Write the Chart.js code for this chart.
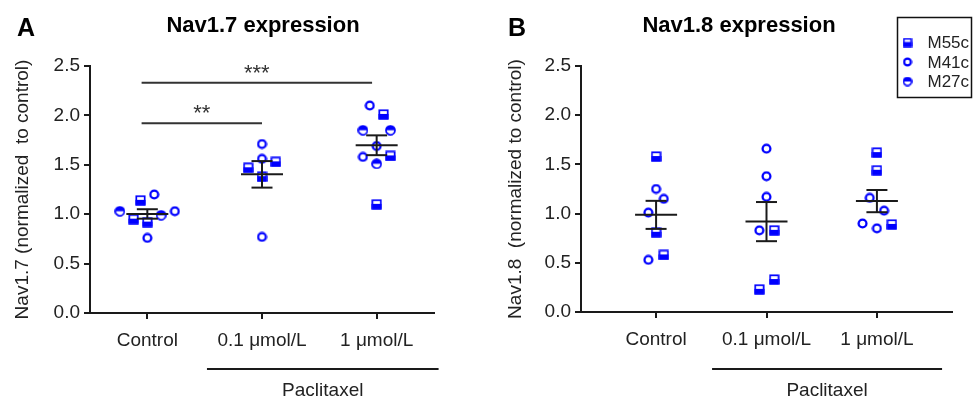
<!DOCTYPE html>
<html>
<head>
<meta charset="utf-8">
<script src="https://cdn.jsdelivr.net/npm/chart.js@4"></script>
<style>
html, body { margin: 0; padding: 0; background: #fff; }
#wrap { position: relative; width: 973px; height: 400px; }
.panel { position: absolute; top: 0; height: 400px; }
</style>
</head>
<body>
<div id="wrap">
  <div class="panel" style="left:0;width:486px"><canvas id="chartA" width="486" height="400"></canvas></div>
  <div class="panel" style="left:486px;width:487px"><canvas id="chartB" width="487" height="400"></canvas></div>
</div>
<script>
// categories
const groups = ['Control', '0.1 \u03bcmol/L', '1 \u03bcmol/L'];
const mice = ['M55c', 'M41c', 'M27c'];
const yTicks = [0, 0.5, 1.0, 1.5, 2.0, 2.5];

// Nav1.7 values
const nav17Control = [1.03, 1.14, 1.20, 1.03, 0.99, 0.95, 0.92, 0.76];
const nav17ControlMouse = ['M27c', 'M55c', 'M41c', 'M41c', 'M27c', 'M55c', 'M55c', 'M41c'];
const nav17ControlJitter = [-0.24, -0.06, 0.06, 0.24, 0.12, -0.12, 0, 0];
const nav17Low = [1.71, 1.56, 1.47, 1.53, 1.38, 0.77];
const nav17LowMouse = ['M41c', 'M41c', 'M55c', 'M55c', 'M55c', 'M41c'];
const nav17LowJitter = [0, 0, -0.12, 0.12, 0, 0];
const nav17High = [2.10, 2.01, 1.85, 1.85, 1.69, 1.58, 1.59, 1.51, 1.10];
const nav17HighMouse = ['M41c', 'M55c', 'M27c', 'M27c', 'M41c', 'M41c', 'M55c', 'M27c', 'M55c'];
const nav17HighJitter = [-0.06, 0.06, -0.12, 0.12, 0, -0.12, 0.12, 0, 0];
const nav17Sig = [
  { from: -0.05, to: 1, y: 1.92, label: '**' },
  { from: -0.05, to: 1.96, y: 2.33, label: '***' }
];

// Nav1.8 values
const nav18Control = [1.58, 1.25, 1.15, 1.01, 0.81, 0.58, 0.53];
const nav18ControlMouse = ['M55c', 'M41c', 'M41c', 'M41c', 'M55c', 'M55c', 'M41c'];
const nav18ControlJitter = [0, 0, 0.07, -0.07, 0, 0.07, -0.07];
const nav18Low = [1.66, 1.38, 1.17, 0.83, 0.83, 0.33, 0.23];
const nav18LowMouse = ['M41c', 'M41c', 'M41c', 'M41c', 'M55c', 'M55c', 'M55c'];
const nav18LowJitter = [0, 0, 0, -0.065, 0.07, 0.07, -0.065];
const nav18High = [1.62, 1.44, 1.16, 1.03, 0.90, 0.85, 0.89];
const nav18HighMouse = ['M55c', 'M55c', 'M41c', 'M41c', 'M41c', 'M41c', 'M55c'];
const nav18HighJitter = [0, 0, -0.065, 0.065, -0.13, 0, 0.135];

const FONT = 'Liberation Sans, Arial, sans-serif';
const BLUE = '#0000ff';
const INK = '#1a1a1a';

// marker pictures, s = pixel size of the canvas
function makeMarker(kind, s) {
  const c = document.createElement('canvas');
  c.width = s; c.height = s;
  const g = c.getContext('2d');
  const h = s / 2;
  g.strokeStyle = BLUE;
  if (kind === 'M55c') {
    g.fillStyle = '#fff';
    g.fillRect(0.5, 0.5, s - 1, s - 1);
    g.fillStyle = BLUE;
    g.fillRect(0.5, h - 0.5, s - 1, h);
    g.lineWidth = 1.7;
    g.strokeRect(1.3, 1.3, s - 2.6, s - 2.6);
  } else if (kind === 'M41c') {
    const r = h - 1.6;
    g.fillStyle = '#fff';
    g.beginPath(); g.arc(h, h, r, 0, Math.PI * 2); g.fill();
    g.lineWidth = 2.3;
    g.stroke();
  } else {
    const r = h - 1;
    g.fillStyle = '#fff';
    g.beginPath(); g.arc(h, h, r, 0, Math.PI * 2); g.fill();
    g.fillStyle = BLUE;
    g.beginPath(); g.arc(h, h, r, Math.PI, Math.PI * 2); g.closePath(); g.fill();
    g.lineWidth = 1.7;
    g.beginPath(); g.arc(h, h, r, 0, Math.PI * 2); g.stroke();
  }
  return c;
}
const markers = {};
const legendMarkers = {};
mice.forEach(m => {
  markers[m] = makeMarker(m, 11);
  legendMarkers[m] = makeMarker(m, 10);
});

function mean(a) { return a.reduce((s, v) => s + v, 0) / a.length; }
function sem(a) {
  const m = mean(a);
  const sd = Math.sqrt(a.reduce((s, v) => s + (v - m) * (v - m), 0) / (a.length - 1));
  return sd / Math.sqrt(a.length);
}

function buildDatasets(vals, mouse, jit) {
  return mice.map(m => {
    const pts = [];
    vals.forEach((arr, gi) => {
      arr.forEach((v, k) => {
        if (mouse[gi][k] === m) pts.push({ x: gi + jit[gi][k], y: v });
      });
    });
    return { label: m, data: pts, pointStyle: markers[m], showLine: false };
  });
}

function line(ctx, x1, y1, x2, y2) {
  ctx.beginPath(); ctx.moveTo(x1, y1); ctx.lineTo(x2, y2); ctx.stroke();
}

const extras = {
  id: 'extras',
  afterDatasetsDraw(chart, args, o) {
    const ctx = chart.ctx, xs = chart.scales.x, ys = chart.scales.y;
    ctx.save();
    ctx.strokeStyle = INK;
    ctx.lineWidth = 2;
    // mean and SEM
    o.values.forEach((arr, i) => {
      const m = mean(arr), e = sem(arr);
      const cx = xs.getPixelForValue(i);
      const ym = ys.getPixelForValue(m), yt = ys.getPixelForValue(m + e), yb = ys.getPixelForValue(m - e);
      line(ctx, cx - 21, ym, cx + 21, ym);
      line(ctx, cx, yt, cx, yb);
      line(ctx, cx - 10.5, yt, cx + 10.5, yt);
      line(ctx, cx - 10.5, yb, cx + 10.5, yb);
    });
    // significance bars
    ctx.strokeStyle = '#333';
    ctx.fillStyle = '#333';
    ctx.font = '22px ' + FONT;
    ctx.textAlign = 'center';
    ctx.textBaseline = 'alphabetic';
    (o.sig || []).forEach(s => {
      const x1 = xs.getPixelForValue(s.from), x2 = xs.getPixelForValue(s.to);
      const y = ys.getPixelForValue(s.y);
      line(ctx, x1, y, x2, y);
      ctx.fillText(s.label, (x1 + x2) / 2, y - 3);
    });
    ctx.restore();
  },
  afterDraw(chart, args, o) {
    const ctx = chart.ctx, xs = chart.scales.x;
    ctx.save();
    ctx.fillStyle = '#000';
    ctx.textBaseline = 'alphabetic';
    ctx.textAlign = 'left';
    ctx.font = 'bold 25px ' + FONT;
    ctx.fillText(o.letter, o.letterX, 36);
    ctx.textAlign = 'center';
    ctx.font = 'bold 22px ' + FONT;
    ctx.fillText(o.title, o.titleX, 32);
    // paclitaxel bracket
    ctx.strokeStyle = INK;
    ctx.lineWidth = 2;
    const p1 = xs.getPixelForValue(o.pacFrom), p2 = xs.getPixelForValue(o.pacTo);
    line(ctx, p1, 369, p2, 369);
    ctx.fillStyle = '#222';
    ctx.font = '19px ' + FONT;
    ctx.fillText('Paclitaxel', (p1 + p2) / 2, 396);
    // legend
    if (o.legend) {
      const L = o.legend;
      ctx.lineWidth = 1.5;
      ctx.strokeStyle = '#111';
      ctx.strokeRect(L.x, L.y, L.w, L.h);
      ctx.textAlign = 'left';
      ctx.textBaseline = 'middle';
      ctx.font = '17px ' + FONT;
      mice.forEach((m, i) => {
        const cy = L.y + 25 + i * 19.5;
        ctx.drawImage(legendMarkers[m], L.x + 10 - 5, cy - 5);
        ctx.fillText(m, L.x + 30, cy + 1);
      });
    }
    ctx.restore();
  }
};

function makeChart(id, cfg) {
  return new Chart(document.getElementById(id), {
    type: 'scatter',
    data: { datasets: buildDatasets(cfg.values, cfg.mouse, cfg.jitter) },
    plugins: [extras],
    options: {
      responsive: false,
      animation: false,
      events: [],
      layout: { padding: { top: 66, right: cfg.padRight, bottom: 0, left: 0 } },
      elements: { point: { radius: 5 } },
      plugins: {
        legend: { display: false },
        tooltip: { enabled: false },
        extras: cfg.extras
      },
      scales: {
        x: {
          type: 'linear',
          min: cfg.xMin,
          max: cfg.xMax,
          afterBuildTicks: s => { s.ticks = groups.map((g, i) => ({ value: i })); },
          afterFit: s => { s.height = 400 - cfg.bottom; },
          ticks: {
            callback: v => groups[v],
            autoSkip: false,
            maxRotation: 0,
            padding: 10,
            color: '#222',
            font: { family: FONT, size: 19 }
          },
          grid: { drawOnChartArea: false, drawTicks: true, tickLength: 6, color: INK, lineWidth: 2 },
          border: { display: true, color: INK, width: 2 }
        },
        y: {
          min: 0,
          max: 2.5,
          afterBuildTicks: s => { s.ticks = yTicks.map(v => ({ value: v })); },
          afterFit: s => { s.width = cfg.yWidth; },
          ticks: {
            callback: v => v.toFixed(1),
            padding: 4,
            color: '#222',
            font: { family: FONT, size: 19 }
          },
          grid: { drawOnChartArea: false, drawTicks: true, tickLength: 6, color: INK, lineWidth: 2 },
          border: { display: true, color: INK, width: 2 },
          title: {
            display: true,
            text: cfg.yTitle,
            color: '#222',
            font: { family: FONT, size: 19 },
            padding: { top: cfg.titlePad, bottom: 0 }
          }
        }
      }
    }
  });
}

makeChart('chartA', {
  values: [nav17Control, nav17Low, nav17High],
  mouse: [nav17ControlMouse, nav17LowMouse, nav17HighMouse],
  jitter: [nav17ControlJitter, nav17LowJitter, nav17HighJitter],
  xMin: -0.5, xMax: 2.5,
  padRight: 52, yWidth: 90, bottom: 313, titlePad: 11,
  yTitle: 'Nav1.7 (normalized  to control)',
  extras: {
    values: [nav17Control, nav17Low, nav17High],
    sig: nav17Sig,
    letter: 'A', letterX: 17,
    title: 'Nav1.7 expression', titleX: 263,
    pacFrom: 0.52, pacTo: 2.54
  }
});

makeChart('chartB', {
  values: [nav18Control, nav18Low, nav18High],
  mouse: [nav18ControlMouse, nav18LowMouse, nav18HighMouse],
  jitter: [nav18ControlJitter, nav18LowJitter, nav18HighJitter],
  xMin: -0.68, xMax: 2.68,
  padRight: 21, yWidth: 95, bottom: 312, titlePad: 18,
  yTitle: 'Nav1.8  (normalized to control)',
  extras: {
    values: [nav18Control, nav18Low, nav18High],
    sig: [],
    letter: 'B', letterX: 22,
    title: 'Nav1.8 expression', titleX: 253,
    pacFrom: 0.507, pacTo: 2.59,
    legend: { x: 411.5, y: 17.5, w: 74, h: 80 }
  }
});
</script>
</body>
</html>
